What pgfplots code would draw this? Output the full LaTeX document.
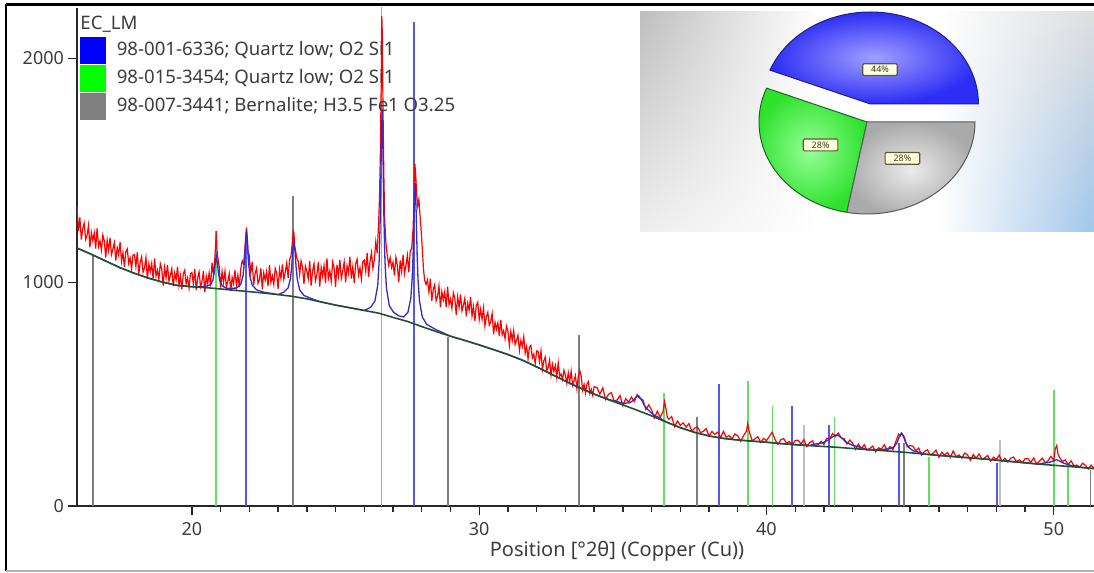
\documentclass[border=0pt]{standalone}
\usepackage{fontspec}
\setmainfont{Noto Sans}
\usepackage{pgfplots}
\usepackage{pgfplotstable}
\pgfplotsset{compat=1.18}
\usetikzlibrary{shadings}

\definecolor{txt}{RGB}{60,60,60}
\definecolor{stickblue}{RGB}{85,85,240}
\definecolor{stickgreen}{RGB}{95,225,95}
\definecolor{stickgray}{RGB}{125,125,125}
\definecolor{sticklight}{RGB}{190,190,190}
\definecolor{fitblue}{RGB}{55,40,200}
\definecolor{basecol}{RGB}{35,80,50}
\definecolor{axcol}{RGB}{40,40,40}
\definecolor{bgUL}{RGB}{190,190,190}
\definecolor{bgLL}{RGB}{238,238,238}
\definecolor{bgUR}{RGB}{222,222,222}
\definecolor{bgLR}{RGB}{160,198,236}
\definecolor{pieBin}{RGB}{160,160,255}
\definecolor{pieBout}{RGB}{45,45,245}
\definecolor{pieBdraw}{RGB}{30,30,140}
\definecolor{pieGin}{RGB}{150,255,150}
\definecolor{pieGout}{RGB}{45,225,45}
\definecolor{pieGdraw}{RGB}{30,100,30}
\definecolor{pieRin}{RGB}{235,235,235}
\definecolor{pieRout}{RGB}{170,170,170}
\definecolor{pieRdraw}{RGB}{90,90,90}
\definecolor{lblfill}{RGB}{255,255,220}
\definecolor{lbldraw}{RGB}{90,90,60}
\definecolor{lbltext}{RGB}{60,60,40}

\pgfplotstableread{
x y
16.00 1340
16.05 1228
16.10 1290
16.15 1191
16.20 1241
16.25 1264
16.30 1192
16.35 1210
16.40 1254
16.45 1156
16.50 1222
16.55 1186
16.60 1221
16.65 1151
16.70 1241
16.75 1161
16.80 1185
16.85 1143
16.90 1211
16.95 1185
17.00 1110
17.05 1189
17.10 1142
17.15 1199
17.20 1124
17.25 1148
17.30 1177
17.35 1097
17.40 1154
17.45 1123
17.50 1180
17.55 1093
17.60 1133
17.65 1069
17.70 1136
17.75 1149
17.80 1084
17.85 1108
17.90 1060
17.95 1122
18.00 1123
18.05 1071
18.10 1134
18.15 1037
18.20 1089
18.25 1114
18.30 1045
18.35 1064
18.40 1110
18.45 1014
18.50 1082
18.55 1047
18.60 1084
18.65 1016
18.70 1107
18.75 1028
18.80 1054
18.85 1013
18.90 1083
18.95 1059
19.00 985
19.05 1066
19.10 1020
19.15 1078
19.20 1005
19.25 1030
19.30 1061
19.35 982
19.40 1041
19.45 1011
19.50 1070
19.55 986
19.60 1029
19.65 968
19.70 1038
19.75 1054
19.80 992
19.85 1019
19.90 974
19.95 1039
20.00 1043
20.05 993
20.10 1059
20.15 965
20.20 1019
20.25 1046
20.30 980
20.35 1001
20.40 1050
20.45 956
20.50 1027
20.55 994
20.60 1042
20.65 982
20.70 1088
20.75 1033
20.80 1110
20.83 1180
20.85 1228
20.87 1150
20.90 1110
20.95 1070
21.00 976
21.05 1048
21.10 998
21.15 1049
21.20 978
21.25 1005
21.30 1038
21.35 961
21.40 1022
21.45 994
21.50 1054
21.55 983
21.60 1032
21.65 978
21.70 1059
21.75 1096
21.80 1081
21.85 1160
21.88 1215
21.90 1245
21.93 1190
21.95 1140
21.98 1090
22.00 1110
22.05 1043
22.10 1091
22.15 989
22.20 1039
22.25 1063
22.30 995
22.35 1011
22.40 1062
22.45 969
22.50 1042
22.55 1009
22.60 1048
22.65 983
22.70 1077
22.75 1000
22.80 1028
22.85 990
22.90 1062
22.95 1041
23.00 970
23.05 1058
23.10 1017
23.15 1080
23.20 1013
23.25 1046
23.30 1086
23.35 1020
23.40 1101
23.45 1119
23.50 1185
23.53 1228
23.55 1220
23.58 1160
23.60 1148
23.65 1108
23.70 1094
23.75 1035
23.80 1096
23.85 1067
23.90 992
23.95 1072
24.00 1050
24.05 1016
24.10 1095
24.15 985
24.20 1050
24.25 1083
24.30 1006
24.35 1032
24.40 1091
24.45 981
24.50 1066
24.55 1028
24.60 1074
24.65 996
24.70 1107
24.75 1017
24.80 1050
24.85 1005
24.90 1090
24.95 1064
25.00 980
25.05 1079
25.10 1028
25.15 1100
25.20 1017
25.25 1050
25.30 1090
25.35 1000
25.40 1073
25.45 1041
25.50 1114
25.55 1017
25.60 1069
25.65 998
25.70 1083
25.75 1103
25.80 1032
25.85 1065
25.90 1014
25.95 1092
26.00 1099
26.05 1049
26.10 1131
26.15 1024
26.20 1093
26.25 1133
26.30 1063
26.35 1101
26.40 1181
26.45 1130
26.50 1271
26.53 1380
26.56 1580
26.59 1900
26.61 2190
26.63 2100
26.65 1790
26.68 1480
26.71 1280
26.75 1180
26.80 1120
26.85 1076
26.90 1110
26.95 1066
27.00 1089
27.05 1030
27.10 1112
27.15 1077
27.20 1000
27.25 1098
27.30 1049
27.35 1122
27.40 1039
27.45 1075
27.50 1121
27.55 1044
27.60 1140
27.65 1151
27.70 1240
27.73 1380
27.76 1530
27.79 1480
27.82 1400
27.86 1340
27.90 1370
27.94 1300
27.98 1230
28.02 1150
28.06 1060
28.10 1010
28.15 990
28.20 1011
28.25 956
28.30 1016
28.35 917
28.40 967
28.45 989
28.50 917
28.55 937
28.60 984
28.65 888
28.70 957
28.75 921
28.80 957
28.85 889
28.90 980
28.95 900
29.00 925
29.05 884
29.10 953
29.15 929
29.20 855
29.25 935
29.30 888
29.35 946
29.40 872
29.45 897
29.50 928
29.55 848
29.60 906
29.65 876
29.70 934
29.75 849
29.80 891
29.85 828
29.90 897
29.95 911
30.00 833
30.05 879
30.10 835
30.15 885
30.20 805
30.25 847
30.30 866
30.35 808
30.40 823
30.45 860
30.50 767
30.55 821
30.60 790
30.65 818
30.70 760
30.75 832
30.80 765
30.85 784
30.90 748
30.95 803
31.00 781
31.05 718
31.10 781
31.15 740
31.20 785
31.25 722
31.30 740
31.35 763
31.40 695
31.45 740
31.50 713
31.55 757
31.60 683
31.65 713
31.70 658
31.75 710
31.80 718
31.85 662
31.90 679
31.95 637
32.00 693
32.05 691
32.10 645
32.15 693
32.20 610
32.25 649
32.30 666
32.35 606
32.40 618
32.45 652
32.50 585
32.55 633
32.60 601
32.65 628
32.70 575
32.75 640
32.80 580
32.85 590
32.90 565
32.95 607
33.00 584
33.05 548
33.10 596
33.15 556
33.20 602
33.25 540
33.30 559
33.35 583
33.40 525
33.45 579
33.50 605
33.55 582
33.60 518
33.65 544
33.70 505
33.75 546
33.80 556
33.85 503
33.90 522
33.95 495
34.00 533
34.10 530
34.20 500
34.30 528
34.40 476
34.50 499
34.60 507
34.70 468
34.80 474
34.90 494
35.00 448
35.10 480
35.20 464
35.30 487
35.40 467
35.45 483
35.50 498
35.55 486
35.60 480
35.70 474
35.80 431
35.90 452
36.00 430
36.10 394
36.20 424
36.30 396
36.40 422
36.45 466
36.50 436
36.55 396
36.60 388
36.70 400
36.80 355
36.90 380
37.00 360
37.10 372
37.20 352
37.30 369
37.40 334
37.50 348
37.60 353
37.70 329
37.80 333
37.90 346
38.00 312
38.10 333
38.20 320
38.30 330
38.40 306
38.50 334
38.60 307
38.70 315
38.80 300
38.90 322
39.00 313
39.10 289
39.20 314
39.30 334
39.35 368
39.40 332
39.50 292
39.60 300
39.70 310
39.80 284
39.90 302
40.00 292
40.10 311
40.20 330
40.30 296
40.40 275
40.50 297
40.60 301
40.70 280
40.80 288
40.90 273
41.00 293
41.10 294
41.20 277
41.30 297
41.40 266
41.50 283
41.60 291
41.70 268
41.80 274
41.90 289
42.00 275
42.10 303
42.20 300
42.30 324
42.40 310
42.50 326
42.60 305
42.70 301
42.80 277
42.90 295
43.00 280
43.10 253
43.20 277
43.30 256
43.40 274
43.50 250
43.60 258
43.70 268
43.80 242
43.90 260
44.00 254
44.10 274
44.20 249
44.30 266
44.40 251
44.50 288
44.60 321
44.65 314
44.70 326
44.80 308
44.90 264
45.00 270
45.10 267
45.20 246
45.30 259
45.40 227
45.50 244
45.60 251
45.70 229
45.80 235
45.90 250
46.00 218
46.10 240
46.20 228
46.30 239
46.40 217
46.50 246
46.60 220
46.70 228
46.80 214
46.90 237
47.00 228
47.10 204
47.20 230
47.30 214
47.40 233
47.50 208
47.60 216
47.70 226
47.80 200
47.90 218
48.00 208
48.10 227
48.20 199
48.30 213
48.40 196
48.50 214
48.60 219
48.70 198
48.80 206
48.90 194
49.00 211
49.10 212
49.20 195
49.30 215
49.40 188
49.50 201
49.60 214
49.70 193
49.80 202
49.90 222
50.00 204
50.05 255
50.10 270
50.15 232
50.20 217
50.30 199
50.40 206
50.50 185
50.60 202
50.70 180
50.80 183
50.90 174
51.00 191
51.10 182
51.20 165
51.30 183
51.40 167
}\measured

\pgfplotstableread{
x y
16.0 1153
16.5 1125
17.0 1095
17.5 1065
18.0 1040
18.5 1018
19.0 1000
19.5 986
20.0 980
20.5 976
21.0 970
21.5 964
22.0 958
22.5 952
23.0 945
23.5 937
24.0 926
24.5 912
25.0 898
25.5 886
26.0 874
26.5 862
27.0 843
27.5 825
28.0 802
28.5 780
29.0 759
29.5 740
30.0 720
30.5 699
31.0 677
31.5 652
32.0 622
32.5 590
33.0 558
33.5 528
34.0 500
34.5 475
35.0 452
35.5 428
36.0 403
36.5 376
37.0 350
37.5 329
38.0 313
38.5 302
39.0 295
39.5 290
40.0 285
40.5 279
41.0 274
41.5 270
42.0 266
42.5 262
43.0 257
43.5 252
44.0 248
44.5 243
45.0 238
45.5 232
46.0 226
46.5 221
47.0 216
47.5 211
48.0 205
48.5 199
49.0 193
49.5 187
50.0 182
50.5 177
51.0 172
51.4 167
}\background

\pgfplotstableread{
x y
16.0 1153
16.5 1125
17.0 1095
17.5 1065
18.0 1040
18.5 1018
19.0 1000
19.5 986
20.0 980
20.5 982
20.65 990
20.73 1010
20.78 1045
20.81 1082
20.85 1117
20.89 1082
20.92 1045
20.97 1008
21.05 985
21.2 973
21.55 974
21.70 991
21.78 1029
21.83 1096
21.86 1164
21.90 1231
21.94 1163
21.97 1094
22.02 1027
22.10 987
22.25 966
22.5 956
23.0 945
23.20 956
23.35 975
23.43 1017
23.47 1064
23.51 1139
23.55 1180
23.59 1136
23.63 1061
23.67 1012
23.75 966
23.90 941
24.2 925
24.5 912
25.0 898
25.5 886
26.0 874
26.22 888
26.37 916
26.47 988
26.52 1102
26.56 1314
26.59 1586
26.62 1767
26.65 1583
26.68 1309
26.72 1093
26.77 976
26.87 895
27.02 866
27.2 850
27.37 845
27.52 866
27.62 930
27.67 1023
27.70 1130
27.735 1318
27.77 1443
27.805 1316
27.84 1123
27.87 1014
27.92 917
28.02 845
28.17 812
28.5 788
29.0 759
29.5 740
30.0 720
30.5 699
31.0 677
31.5 652
32.0 622
32.5 590
33.0 558
33.5 528
34.0 500
34.5 477
34.75 468
35.05 459
35.25 462
35.35 470
35.45 485
35.55 493
35.65 475
35.75 450
35.85 433
36.05 409
36.35 388
36.5 376
37.0 350
37.5 329
38.0 313
38.5 302
39.0 295
39.5 290
40.0 285
40.5 279
41.0 274
41.5 270
41.65 276
41.95 282
42.15 295
42.30 309
42.45 319
42.60 306
42.75 288
42.95 273
43.25 263
43.5 252
44.0 252
44.30 256
44.45 266
44.55 285
44.625 310
44.70 326
44.775 308
44.85 282
44.95 262
45.10 247
45.40 237
45.5 232
46.0 226
46.5 221
47.0 216
47.5 211
48.0 205
48.5 199
49.0 193
49.5 187
49.6 191
49.85 195
50.10 207
50.35 191
50.6 181
51.0 172
51.4 167
}\fitted

\def\pBlue{44}
\def\pGreen{28}
\def\pGray{28}

\begin{document}
\begin{tikzpicture}
\path[use as bounding box] (-38.5pt,-33.5pt) rectangle (508.5pt,253pt);
\begin{axis}[
  scale only axis, width=508.5pt, height=249pt,
  xmin=16.0, xmax=51.4, ymin=0, ymax=2226,
  axis x line=bottom, axis y line=left,
  axis line style={-, axcol, line width=1.2pt},
  xtick={20,30,40,50}, minor x tick num=9,
  ytick={0,1000,2000},
  tick align=outside, major tick length=4.5pt, minor tick length=3pt,
  tick style={axcol, line width=0.7pt},
  ticklabel style={font=\fontsize{9}{10}\selectfont, text=txt},
  yticklabel style={xshift=1.5pt},
  /pgf/number format/assume math mode=true,
  /pgf/number format/set thousands separator={},
  xlabel={Position [°2θ] (Copper (Cu))},
  xlabel style={font=\fontsize{10}{11}\selectfont, text=txt, at={(axis description cs:0.531,0)}, anchor=center, yshift=-22.5pt},
  legend style={draw=none, fill=none, at={(axis description cs:0.003,0.942)}, anchor=north west,
    inner sep=0pt, outer sep=0pt, row sep=0.6pt, font=\fontsize{9.3}{10}\selectfont, text=txt,
    nodes={inner sep=0pt},
    /tikz/every odd column/.append style={column sep=5.5pt}},
  legend cell align=left,
]
\addplot[ycomb, stickblue, line width=0.9pt, legend image code/.code={\fill[blue] (0pt,-6.25pt) rectangle (12pt,6.25pt);}]
 coordinates {(21.87,1200) (27.74,2164) (38.36,545) (40.88,447) (42.17,362) (44.60,280) (48.03,192)};
\addlegendentry{98-001-6336; Quartz low; O2 Si1}
\addplot[ycomb, stickgreen, line width=0.9pt, legend image code/.code={\fill[green] (0pt,-6.25pt) rectangle (12pt,6.25pt);}]
 coordinates {(20.83,1230) (26.60,2400) (36.44,504) (39.35,559) (40.21,447) (42.37,399) (45.65,220) (50.00,518) (50.50,192)};
\addlegendentry{98-015-3454; Quartz low; O2 Si1}
\addplot[ycomb, stickgray, line width=0.9pt, legend image code/.code={\fill[gray] (0pt,-6.25pt) rectangle (12pt,6.25pt);}]
 coordinates {(16.57,1120) (23.53,1386) (28.90,757) (33.48,764) (37.58,399) (44.80,280) (51.28,161)};
\addlegendentry{98-007-3441; Bernalite; H3.5 Fe1 O3.25}
\addplot[ycomb, sticklight, line width=0.9pt, forget plot]
 coordinates {(41.30,362) (48.13,295)};
\addplot[red, line width=0.6pt, forget plot] table[x=x, y=y] {\measured};
\addplot[fitblue, line width=0.65pt, forget plot] table[x=x, y=y] {\fitted};
\addplot[basecol, line width=0.8pt, forget plot] table[x=x, y=y] {\background};
\node[anchor=west, font=\fontsize{9.3}{10}\selectfont, text=txt, inner sep=0pt] at (rel axis cs:0.003,0.968) {EC\_LM};
\end{axis}
% outer frame
\draw[black, line width=1.5pt] (-35.5pt,250.5pt) -- (508.5pt,250.5pt);
\draw[black, line width=1pt] (-35.5pt,251.2pt) -- (-35.5pt,-32.5pt);
\draw[gray!60, line width=0.8pt] (-35.5pt,-32.5pt) -- (508.5pt,-32.5pt);
% pie inset
\fill[white] (281.5pt,137.2pt) rectangle (508.5pt,247.2pt);
\shade[upper left=bgUL, lower left=bgLL, upper right=white, lower right=white] (281.5pt,137.2pt) rectangle (370pt,247.2pt);
\shade[upper left=white, lower left=white, upper right=bgUR, lower right=bgLR] (430pt,137.2pt) rectangle (508.5pt,247.2pt);
\pgfmathsetmacro{\aB}{3.6*\pBlue}
\pgfmathsetmacro{\aG}{\aB+3.6*\pGreen}
\pgfmathsetmacro{\aR}{\aG+3.6*\pGray}
\shadedraw[inner color=pieBin, outer color=pieBout, draw=pieBdraw, line width=0.5pt]
  (396.7pt,201pt) -- ++(0:54pt and 46pt) arc[start angle=0, end angle=\aB, x radius=54pt, y radius=46pt] -- cycle;
\shadedraw[inner color=pieGin, outer color=pieGout, draw=pieGdraw, line width=0.5pt]
  (395pt,192pt) -- ++(\aB:54pt and 46pt) arc[start angle=\aB, end angle=\aG, x radius=54pt, y radius=46pt] -- cycle;
\shadedraw[inner color=pieRin, outer color=pieRout, draw=pieRdraw, line width=0.5pt]
  (395pt,192pt) -- ++(\aG:54pt and 46pt) arc[start angle=\aG, end angle=\aR, x radius=54pt, y radius=46pt] -- cycle;
\tikzset{pl/.style={fill=lblfill, draw=lbldraw, line width=0.6pt, inner xsep=4.2pt, inner ysep=1.3pt, font=\fontsize{4.5}{5}\selectfont, text=lbltext, rounded corners=0.6pt}}
\node[pl] at (401.5pt,218.2pt) {\pBlue\%};
\node[pl] at (371.8pt,180.5pt) {\pGreen\%};
\node[pl] at (412.7pt,173.8pt) {\pGray\%};
\end{tikzpicture}
\end{document}
